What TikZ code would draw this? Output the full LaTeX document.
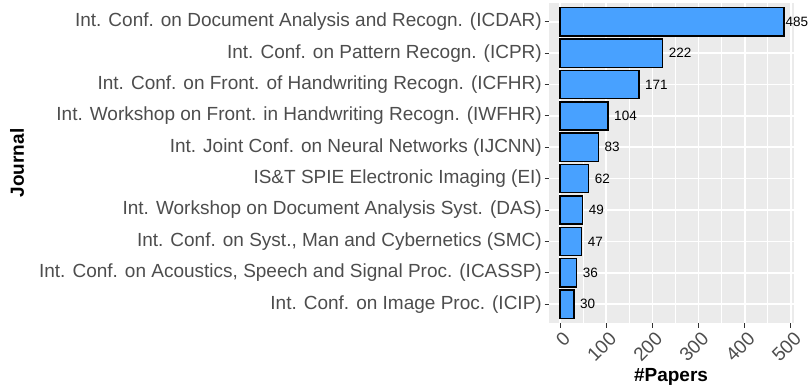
\documentclass[tikz,border=0pt]{standalone}
\usepackage{fontspec}
\setmainfont{Liberation Sans}
\definecolor{panelgray}{HTML}{EBEBEB}
\definecolor{barblue}{HTML}{48A1FF}
\definecolor{ticktext}{HTML}{4D4D4D}
\definecolor{tickgray}{HTML}{333333}
\tikzset{
  ticklabel/.style={text=ticktext, font=\fontsize{19}{22}\selectfont, inner sep=0pt},
  valuelabel/.style={font=\fontsize{13.5}{16}\selectfont, anchor=west, inner sep=0pt},
  axistitle/.style={font=\fontsize{19}{22}\selectfont\bfseries, inner sep=0pt},
  bar/.style={draw=black, fill=barblue, line width=1.4pt},
  majorgrid/.style={white, line width=1.6pt},
  minorgrid/.style={white, line width=0.8pt},
  axistick/.style={tickgray, line width=1pt}
}

\begin{document}
\begin{tikzpicture}[x=1pt,y=-1pt]
\useasboundingbox (0,0) rectangle (811,389);

% panel and grid
\fill[panelgray] (549,3) rectangle (794,323);
\foreach \v in {50,150,...,450}
  \draw[minorgrid] ({560+0.4619*\v},3) -- ({560+0.4619*\v},323);
\foreach \v in {0,100,...,500}
  \draw[majorgrid] ({560+0.4619*\v},3) -- ({560+0.4619*\v},323);
\foreach \i in {0,...,9}
  \draw[majorgrid] (549,{21.8+31.37*\i}) -- (794,{21.8+31.37*\i});

% bars, values and journal names
\foreach \n/\gap/\name [count=\i from 0] in {
  485/1.5/{Int. Conf. on Document Analysis and Recogn. (ICDAR)},
  222/6/{Int. Conf. on Pattern Recogn. (ICPR)},
  171/6/{Int. Conf. on Front. of Handwriting Recogn. (ICFHR)},
  104/6/{Int. Workshop on Front. in Handwriting Recogn. (IWFHR)},
  83/6/{Int. Joint Conf. on Neural Networks (IJCNN)},
  62/6/{IS\&T SPIE Electronic Imaging (EI)},
  49/6/{Int. Workshop on Document Analysis Syst. (DAS)},
  47/6/{Int. Conf. on Syst., Man and Cybernetics (SMC)},
  36/6/{Int. Conf. on Acoustics, Speech and Signal Proc. (ICASSP)},
  30/6/{Int. Conf. on Image Proc. (ICIP)}}
{
  \draw[bar] (560,{21.8+31.37*\i-14.1}) rectangle ({560+0.4619*\n},{21.8+31.37*\i+14.1});
  \node[valuelabel] (val-\i) at ({560+0.4619*\n+\gap},{21.8+31.37*\i}) {\n};
  \draw[axistick] (544.5,{21.8+31.37*\i}) -- (549,{21.8+31.37*\i});
  \node[ticklabel, anchor=east] (name-\i) at (542,{21.8+31.37*\i}) {\name};
}

% x axis
\foreach \v in {0,100,...,500}
{
  \draw[axistick] ({560+0.4619*\v},323) -- ({560+0.4619*\v},327.5);
  \node[ticklabel, rotate=45, anchor=east] (tick-\v) at ({560+0.4619*\v+6.8},335.5) {\v};
}

% axis titles
\node[axistitle] (xtitle) at (671,377) {\#Papers};
\node[axistitle, rotate=90] (ytitle) at (17,163) {Journal};

\end{tikzpicture}
\end{document}
